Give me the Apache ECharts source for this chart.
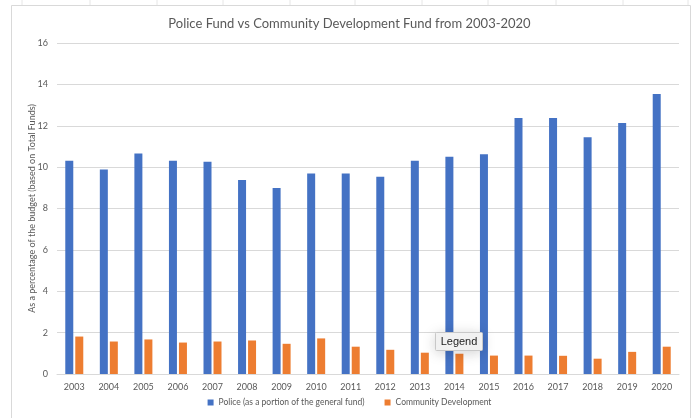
<!DOCTYPE html>
<html>
<head>
<meta charset="utf-8">
<script src="https://cdn.jsdelivr.net/npm/echarts@6/dist/echarts.min.js"></script>
<style>
  html, body { margin: 0; padding: 0; background: #ffffff; }
  #chart { width: 699px; height: 418px; }
</style>
</head>
<body>
<div id="chart"></div>
<script>
// Budget shares by year, in percent of total funds
const years = ['2003', '2004', '2005', '2006', '2007', '2008', '2009', '2010', '2011',
  '2012', '2013', '2014', '2015', '2016', '2017', '2018', '2019', '2020'];
const policeShare = [10.31, 9.88, 10.66, 10.31, 10.26, 9.38, 8.99, 9.69, 9.69,
  9.53, 10.31, 10.5, 10.62, 12.37, 12.37, 11.44, 12.13, 13.54];
const communityShare = [1.81, 1.57, 1.67, 1.52, 1.57, 1.62, 1.46, 1.72, 1.32,
  1.17, 1.03, 0.98, 0.89, 0.89, 0.88, 0.74, 1.07, 1.32];
const yTicks = [0, 2, 4, 6, 8, 10, 12, 14, 16];

const FONT = 'Lato, "Open Sans", sans-serif';
const chart = echarts.init(document.getElementById('chart'), null, { renderer: 'canvas' });

// faint sheet column marks above the chart frame
const sheetMarks = [22, 90, 157, 223, 290, 355, 422, 488, 556, 623, 688].map(x => ({
  type: 'line', shape: { x1: x, y1: 0, x2: x, y2: 5 },
  style: { stroke: '#e6e6e6', lineWidth: 1 }, silent: true
}));

chart.setOption({
  backgroundColor: '#ffffff',
  animation: false,
  title: {
    text: 'Police Fund vs Community Development Fund from 2003-2020',
    left: 'center', top: 12,
    textStyle: { fontFamily: FONT, fontSize: 13, fontWeight: 'normal', color: '#595959' }
  },
  grid: { left: 57, right: 20, top: 43, bottom: 44, containLabel: false },
  legend: {
    bottom: 6, left: 'center',
    itemWidth: 6, itemHeight: 6, itemGap: 20,
    icon: 'rect',
    textStyle: { fontFamily: FONT, fontSize: 8.5, color: '#595959' },
    data: ['Police (as a portion of the general fund)', 'Community Development']
  },
  xAxis: {
    type: 'category', data: years,
    axisLine: { show: true, lineStyle: { color: '#d9d9d9', width: 1 } },
    axisTick: { show: false },
    axisLabel: { fontFamily: FONT, fontSize: 9, color: '#595959', margin: 9 }
  },
  yAxis: {
    type: 'value', min: 0, max: 16, interval: 2,
    name: 'As a percentage of the budget (based on Total Funds)',
    nameLocation: 'middle', nameGap: 20, nameRotate: 90,
    nameMoveOverlap: false,
    nameTextStyle: { fontFamily: FONT, fontSize: 9, color: '#595959' },
    axisLine: { show: false }, axisTick: { show: false },
    axisLabel: {
      fontFamily: FONT, fontSize: 9, color: '#595959', margin: 9,
      formatter: v => yTicks.includes(v) ? String(v) : ''
    },
    splitLine: { lineStyle: { color: '#d9d9d9', width: 1 } }
  },
  series: [
    {
      name: 'Police (as a portion of the general fund)', type: 'bar',
      data: policeShare, barWidth: 8, barGap: '25%',
      itemStyle: { color: '#4472C4' }
    },
    {
      name: 'Community Development', type: 'bar',
      data: communityShare, barWidth: 8,
      itemStyle: { color: '#ED7D31' }
    }
  ],
  graphic: [
    // chart frame
    {
      type: 'rect', shape: { x: 11.5, y: 5.5, width: 679, height: 430 },
      style: { fill: 'none', stroke: '#d9d9d9', lineWidth: 1 }, silent: true, z: -1
    },
    ...sheetMarks,
    // hover hint box
    {
      type: 'rect', shape: { x: 435.5, y: 332.5, width: 47, height: 18, r: 1 },
      z: 200, zlevel: 1,
      style: {
        fill: '#f4f4f4', stroke: '#c8c8c8', lineWidth: 1,
        shadowBlur: 14, shadowColor: 'rgba(0,0,0,0.18)', shadowOffsetY: 2
      }
    },
    {
      type: 'text', x: 459, y: 341.5, z: 201, zlevel: 1,
      style: {
        text: 'Legend', fill: '#222222', align: 'center', verticalAlign: 'middle',
        font: '11px "Liberation Sans", Arial, sans-serif'
      }
    }
  ]
});
</script>
</body>
</html>
